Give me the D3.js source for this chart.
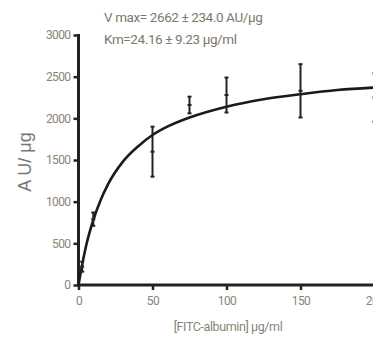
<!DOCTYPE html>
<html>
<head>
<meta charset="UTF-8">
<title>FITC-albumin binding</title>
<script src="https://cdn.jsdelivr.net/npm/d3@7"></script>
<style>
  body { margin: 0; background: #fff; }
  svg { display: block; }
  .tick text { font-family: "Roboto", sans-serif; font-size: 12px; fill: #8a8478; letter-spacing: -0.6px; }
</style>
</head>
<body>
<div id="chart"></div>
<script>
// measured points (mean +/- error)
var conc = [2.5, 10, 50, 75, 100, 150, 200];
var mean = [220, 790, 1600, 2160, 2280, 2330, 2250];
var err  = [60, 80, 300, 100, 210, 320, 290];

// fitted curve
var fitX = [0, 2, 5, 10, 15, 20, 30, 40, 50, 60, 75, 100, 125, 150, 175, 200];
var fitY = [0, 200, 460, 780, 1020, 1210, 1480, 1660, 1800, 1900, 2010, 2140, 2230, 2290, 2340, 2370];

var xTicks = [0, 50, 100, 150, 200];
var yTicks = [0, 500, 1000, 1500, 2000, 2500, 3000];

var svg = d3.select("#chart").append("svg")
    .attr("width", 373)
    .attr("height", 342);

var x = d3.scaleLinear().domain([0, 200]).range([78.5, 374.5]);
var y = d3.scaleLinear().domain([0, 3000]).range([285, 35]);

// axes
var xAxis = svg.append("g")
    .attr("transform", "translate(0,285)")
    .call(d3.axisBottom(x).tickValues(xTicks).tickFormat(d3.format("d"))
      .tickSize(5).tickPadding(6).tickSizeOuter(0));
var yAxis = svg.append("g")
    .attr("transform", "translate(78.5,0)")
    .call(d3.axisLeft(y).tickValues(yTicks).tickFormat(d3.format("d"))
      .tickSize(5).tickPadding(3).tickSizeOuter(0));

[xAxis, yAxis].forEach(function(a) {
  a.select(".domain").attr("stroke", "#222").attr("stroke-width", 3);
  a.selectAll(".tick line").attr("stroke", "#222").attr("stroke-width", 2.5);
});
xAxis.select(".domain").attr("d", "M77,0H373");
yAxis.select(".domain").attr("d", "M0,286.5V34");

// fitted curve
var line = d3.line()
    .x(function(d, i) { return x(fitX[i]); })
    .y(function(d) { return y(d); })
    .curve(d3.curveMonotoneX);
svg.append("path")
    .datum(fitY)
    .attr("d", line)
    .attr("fill", "none")
    .attr("stroke", "#1a1a1a")
    .attr("stroke-width", 2.6);

// error bars
var bars = svg.append("g").selectAll("g")
    .data(conc)
    .enter()
    .append("g")
    .attr("stroke", "#222")
    .attr("stroke-width", 2);
bars.append("line")
    .attr("x1", function(d) { return x(d); })
    .attr("x2", function(d) { return x(d); })
    .attr("y1", function(d, i) { return y(mean[i] + err[i]); })
    .attr("y2", function(d, i) { return y(mean[i] - err[i]); });
bars.append("line")
    .attr("x1", function(d) { return x(d) - 2; })
    .attr("x2", function(d) { return x(d) + 2; })
    .attr("y1", function(d, i) { return y(mean[i] + err[i]); })
    .attr("y2", function(d, i) { return y(mean[i] + err[i]); });
bars.append("line")
    .attr("x1", function(d) { return x(d) - 2; })
    .attr("x2", function(d) { return x(d) + 2; })
    .attr("y1", function(d, i) { return y(mean[i] - err[i]); })
    .attr("y2", function(d, i) { return y(mean[i] - err[i]); });
bars.append("line")
    .attr("x1", function(d) { return x(d) - 2; })
    .attr("x2", function(d) { return x(d) + 2; })
    .attr("y1", function(d, i) { return y(mean[i]); })
    .attr("y2", function(d, i) { return y(mean[i]); });

// titles
svg.append("text")
    .attr("transform", "translate(31,162) rotate(-90)")
    .attr("text-anchor", "middle")
    .style("font-family", "'Liberation Sans', Roboto, sans-serif")
    .style("font-size", "18px")
    .style("fill", "#777")
    .text("A U/ μg");

svg.append("text")
    .attr("x", 228)
    .attr("y", 331)
    .attr("text-anchor", "middle")
    .style("font-family", "Roboto, sans-serif")
    .style("font-size", "12.5px")
    .style("letter-spacing", "-0.4px")
    .style("fill", "#8a8478")
    .text("[FITC-albumin] μg/ml");

svg.append("text")
    .attr("x", 104)
    .attr("y", 22)
    .style("font-family", "Roboto, sans-serif")
    .style("font-size", "13.5px")
    .style("letter-spacing", "-0.4px")
    .style("fill", "#7d776c")
    .text("V max= 2662 ± 234.0 AU/μg");
svg.append("text")
    .attr("x", 104)
    .attr("y", 44)
    .style("font-family", "Roboto, sans-serif")
    .style("font-size", "13.5px")
    .style("letter-spacing", "-0.4px")
    .style("fill", "#7d776c")
    .text("Km=24.16 ± 9.23 μg/ml");
</script>
</body>
</html>
